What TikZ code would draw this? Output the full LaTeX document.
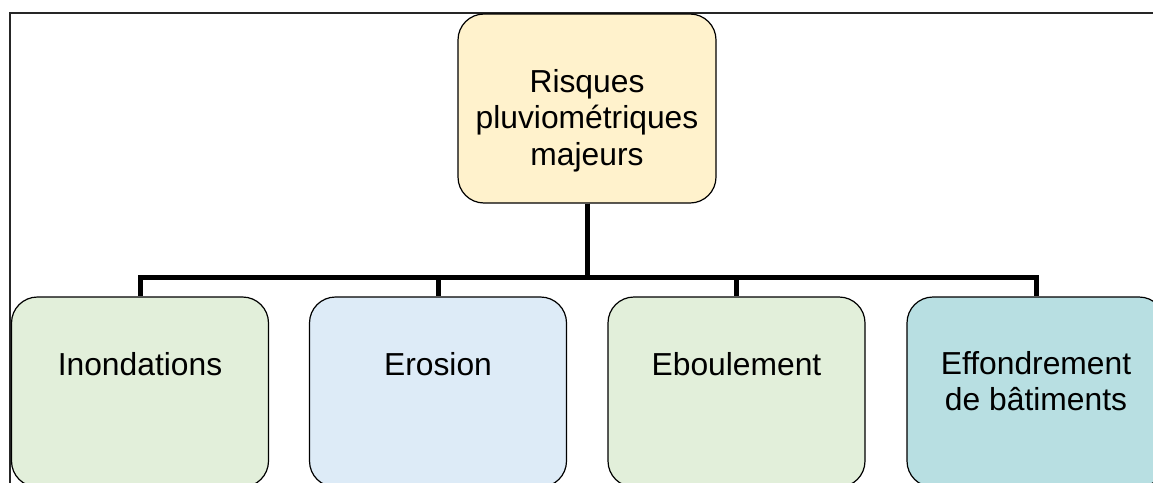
\documentclass[tikz,border=0pt]{standalone}
\usepackage{fontspec}
\setmainfont{Liberation Sans}
\usepackage{tikz}
\usetikzlibrary{calc}
\definecolor{jauneClair}{HTML}{FFF2CC}
\definecolor{vertClair}{HTML}{E2EFDA}
\definecolor{bleuClair}{HTML}{DDEBF7}
\definecolor{turquoiseClair}{HTML}{B8DFE2}
\definecolor{cadreGris}{HTML}{262626}

\begin{document}
\begin{tikzpicture}[x=1pt,y=-1pt,
  boite/.style={draw=black,line width=1.2pt,rounded corners=26pt,minimum width=257pt,minimum height=190pt,inner sep=0pt},
  texte/.style={anchor=north,inner sep=0pt,align=center,font=\fontsize{31.8}{36.5}\selectfont},
  branche/.style={line width=5pt,line join=miter}]
\useasboundingbox (0,0) rectangle (1153,482);
\clip (0,0) rectangle (1153,482);
\fill[white] (0,0) rectangle (1153,482);
\draw[cadreGris,line width=1.3pt] (10,495) -- (10,13) -- (1160,13);
\node[boite,fill=jauneClair,minimum width=258pt,minimum height=189pt] (risques) at (587,108.5) {};
\node[texte] (risquesT) at (587,69) {Risques\\pluviométriques\\majeurs};
\node[boite,fill=vertClair] (inondations) at (140,392) {};
\node[boite,fill=bleuClair] (erosion) at (438,392) {};
\node[boite,fill=vertClair] (eboulement) at (736.5,392) {};
\node[boite,fill=turquoiseClair,minimum width=258pt] (effondrement) at (1036,392) {};
\node[texte] (inondationsT) at (140,352) {Inondations};
\node[texte] (erosionT) at (438,352) {Erosion};
\node[texte] (eboulementT) at (736.5,352) {Eboulement};
\node[texte] (effondrementT) at (1036,351) {Effondrement\\de bâtiments};
\coordinate (bus) at (587,277);
\foreach \b in {inondations,erosion,eboulement,effondrement}
  \draw[branche] (risques.south) -- (bus) -| (\b.north);
\end{tikzpicture}
\end{document}
